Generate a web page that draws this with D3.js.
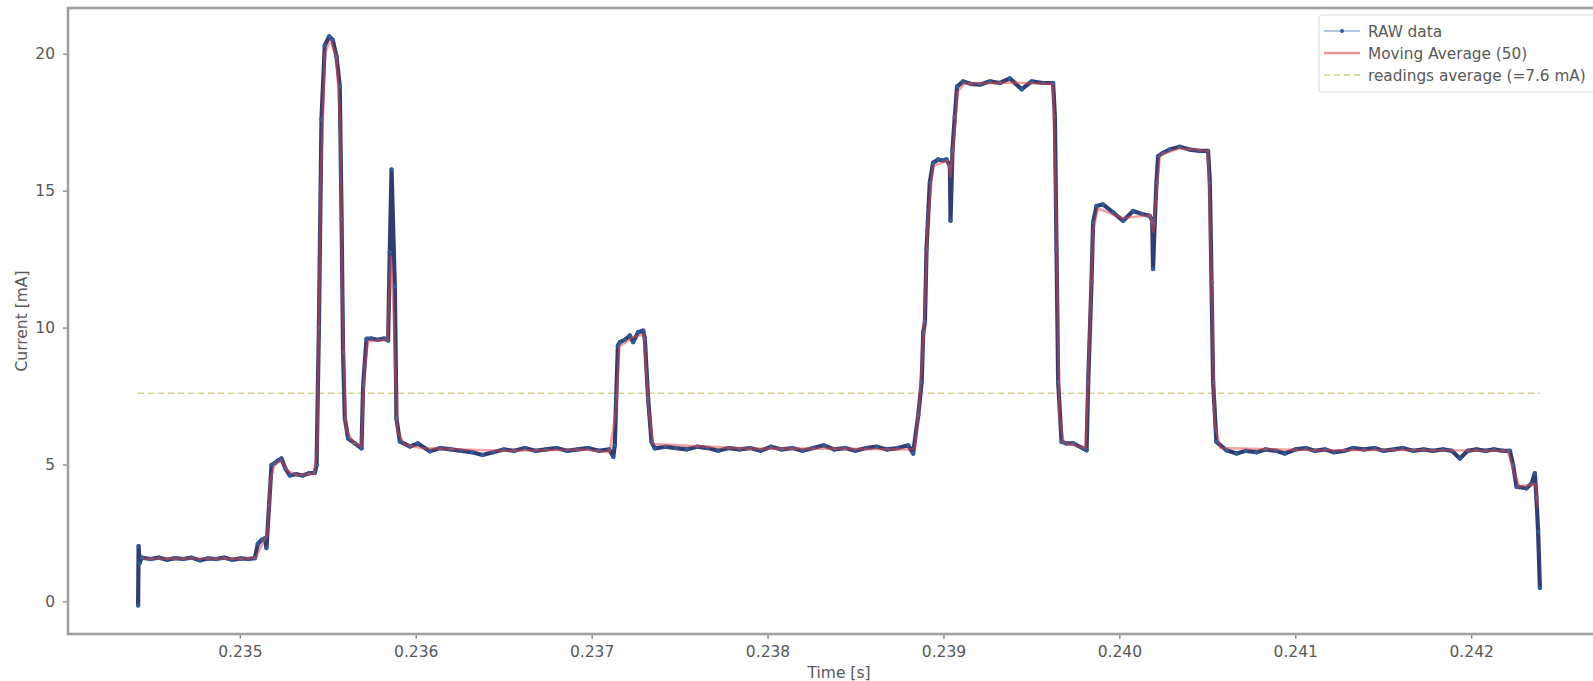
<!DOCTYPE html>
<html>
<head>
<meta charset="utf-8">
<script src="https://cdn.jsdelivr.net/npm/d3@7"></script>
<style>
  html, body { margin: 0; padding: 0; background: #fff; }
  svg { display: block; }
  text { font-family: "DejaVu Sans", sans-serif; }
</style>
</head>
<body>
<svg id="chart" width="1593" height="681"></svg>
<script>
// ---------------- data ----------------
const xTicks = [0.235, 0.236, 0.237, 0.238, 0.239, 0.240, 0.241, 0.242];
const xTickLabels = ["0.235", "0.236", "0.237", "0.238", "0.239", "0.240", "0.241", "0.242"];
const yTicks = [0, 5, 10, 15, 20];
const yTickLabels = ["0", "5", "10", "15", "20"];
const xLabel = "Time [s]";
const yLabel = "Current [mA]";
const legendLabels = ["RAW data", "Moving Average (50)", "readings average (=7.6 mA)"];
const readingsAverage = 7.6;

// RAW data: [time (s), current (mA)]
const rawData = [
  [0.2344216, -0.15], [0.2344245, 2.02], [0.2344300, 1.4], [0.2344421, 1.6],
  [0.2344932, 1.55], [0.2345396, 1.60], [0.2345860, 1.52], [0.2346324, 1.58], [0.2346788, 1.55],
  [0.2347253, 1.60], [0.2347717, 1.50], [0.2348181, 1.57], [0.2348645, 1.55], [0.2349109, 1.60],
  [0.2349573, 1.52], [0.2350038, 1.57], [0.2350502, 1.55], [0.2350855, 1.58],
  [0.2351022, 2.1], [0.2351245, 2.25], [0.2351421, 2.3], [0.2351514, 1.95], [0.2351662, 3.5],
  [0.2351802, 4.98], [0.2351987, 5.05], [0.2352173, 5.15], [0.2352368, 5.22], [0.2352591, 4.85],
  [0.2352841, 4.6], [0.2353194, 4.65], [0.2353565, 4.6], [0.2353937, 4.68], [0.2354262, 4.7],
  [0.2354364, 4.98], [0.2354494, 10.0], [0.2354642, 17.6], [0.2354828, 20.3], [0.2355079, 20.63],
  [0.2355283, 20.5], [0.2355496, 19.9], [0.2355682, 18.8], [0.2355784, 13.96], [0.2355868, 9.1],
  [0.2355970, 6.68], [0.2356156, 5.95], [0.2356536, 5.77], [0.2356917, 5.59], [0.2357010, 7.9],
  [0.2357205, 9.59], [0.2357465, 9.6], [0.2357836, 9.55], [0.2358207, 9.6], [0.2358430, 9.53],
  [0.2358523, 12.75], [0.2358625, 15.77], [0.2358811, 11.5], [0.2358904, 6.68], [0.2359099, 5.84],
  [0.2359665, 5.66], [0.2360120, 5.77], [0.2360797, 5.48],
  [0.23614, 5.6], [0.23620, 5.55], [0.23626, 5.5], [0.23632, 5.45], [0.23638, 5.35],
  [0.23644, 5.45], [0.23650, 5.55], [0.23656, 5.5], [0.23662, 5.6], [0.23668, 5.5],
  [0.23674, 5.55], [0.23680, 5.6], [0.23686, 5.5], [0.23692, 5.55], [0.23698, 5.6],
  [0.23704, 5.5], [0.23710, 5.55], [0.2371232, 5.28],
  [0.2371316, 5.7], [0.2371399, 7.5], [0.2371492, 9.34], [0.2371604, 9.47], [0.2371882, 9.55],
  [0.2372170, 9.71], [0.2372356, 9.47], [0.2372643, 9.83], [0.2372931, 9.89], [0.2373024, 9.59],
  [0.2373210, 7.4], [0.2373405, 5.83], [0.2373590, 5.59],
  [0.23742, 5.65], [0.23748, 5.6], [0.23754, 5.55], [0.23760, 5.65], [0.23766, 5.6],
  [0.23772, 5.5], [0.23778, 5.6], [0.23784, 5.55], [0.23790, 5.6], [0.23796, 5.5],
  [0.23802, 5.65], [0.23808, 5.55], [0.23814, 5.6], [0.23820, 5.5], [0.23826, 5.6],
  [0.23832, 5.7], [0.23838, 5.55], [0.23844, 5.6], [0.23850, 5.5], [0.23856, 5.6],
  [0.23862, 5.65], [0.23868, 5.55], [0.23874, 5.6], [0.23880, 5.7], [0.2388277, 5.4],
  [0.2388565, 6.8], [0.2388760, 8.0], [0.2388853, 9.83], [0.2388946, 10.2], [0.2389038, 12.86],
  [0.2389224, 15.29], [0.2389410, 16.02], [0.2389698, 16.14], [0.2389958, 16.1], [0.2390171, 16.14],
  [0.2390366, 15.9], [0.2390403, 13.9], [0.2390515, 16.5], [0.2390645, 17.7], [0.2390775, 18.8],
  [0.2391118, 18.99], [0.2391536, 18.9], [0.2392065, 18.87], [0.2392641, 18.99], [0.2393207, 18.93],
  [0.2393773, 19.1], [0.2394441, 18.7], [0.2395008, 18.99], [0.2395667, 18.93], [0.2396233, 18.93],
  [0.2396335, 17.7], [0.2396428, 12.86], [0.2396521, 8.01], [0.2396716, 5.83], [0.2396995, 5.77],
  [0.2397375, 5.77], [0.2397941, 5.59], [0.2398136, 5.52], [0.2398229, 8.0], [0.2398415, 11.65],
  [0.2398508, 13.84], [0.2398703, 14.44], [0.2399074, 14.5], [0.2399650, 14.2], [0.2400216, 13.9],
  [0.2400782, 14.26], [0.2401284, 14.15], [0.2401729, 14.08], [0.2401869, 13.9], [0.2401915, 12.14],
  [0.2402008, 13.8], [0.2402110, 15.3], [0.2402203, 16.26], [0.2402481, 16.38], [0.2402862, 16.5],
  [0.2403428, 16.6], [0.2404004, 16.5], [0.2404570, 16.45], [0.2405044, 16.45], [0.2405146, 15.3],
  [0.2405239, 11.65], [0.2405331, 8.0], [0.2405517, 5.83], [0.2406093, 5.52], [0.2406659, 5.4],
  [0.24072, 5.5], [0.24078, 5.45], [0.24083, 5.55], [0.24089, 5.5], [0.24094, 5.4],
  [0.24100, 5.55], [0.24106, 5.6], [0.24111, 5.5], [0.24117, 5.55], [0.24122, 5.45],
  [0.24128, 5.5], [0.24133, 5.6], [0.24139, 5.55], [0.24145, 5.6], [0.24150, 5.5],
  [0.24156, 5.55], [0.24161, 5.6], [0.24167, 5.5], [0.24173, 5.55], [0.24178, 5.5],
  [0.24184, 5.55], [0.24189, 5.5], [0.2419359, 5.22], [0.24198, 5.5], [0.24203, 5.55],
  [0.24208, 5.5], [0.24213, 5.55], [0.24218, 5.5], [0.24222, 5.5],
  [0.2422385, 4.98], [0.2422580, 4.19], [0.2423147, 4.13], [0.2423434, 4.31], [0.2423620, 4.68],
  [0.2423713, 3.77], [0.2423806, 2.55], [0.2423908, 0.49]
];

// Moving Average (50): [time (s), current (mA)]
const movingAverage = [
  [0.2344467, 1.56], [0.2347253, 1.57], [0.2350038, 1.56], [0.2350920, 1.6], [0.2351337, 2.2],
  [0.2351569, 2.4], [0.2351755, 4.5], [0.2351987, 5.0], [0.2352368, 5.15], [0.2352730, 4.75],
  [0.2353287, 4.62], [0.2354215, 4.66], [0.2354401, 5.5], [0.2354587, 15.0], [0.2354828, 20.0],
  [0.2355144, 20.5], [0.2355496, 19.9], [0.2355701, 17.5], [0.2355840, 10.5], [0.2356026, 6.3],
  [0.2356443, 5.8], [0.2356908, 5.65], [0.2357093, 8.5], [0.2357279, 9.5], [0.2358393, 9.55],
  [0.2358579, 12.6], [0.2358718, 11.0], [0.2358950, 6.2], [0.2359321, 5.75], [0.2360250, 5.6],
  [0.2364892, 5.5], [0.2369533, 5.55], [0.2371019, 5.45], [0.2371390, 7.0], [0.2371576, 9.3],
  [0.2372319, 9.65], [0.2372968, 9.75], [0.2373247, 7.0], [0.2373479, 5.75], [0.2378817, 5.58],
  [0.2383459, 5.58], [0.2388101, 5.55], [0.2388379, 5.6], [0.2388658, 7.5], [0.2388890, 9.9],
  [0.2389122, 14.0], [0.2389401, 15.9], [0.2390236, 16.1], [0.2390403, 15.5], [0.2390561, 16.6],
  [0.2390793, 18.6], [0.2391164, 18.9], [0.2393671, 18.95], [0.2396233, 18.9], [0.2396410, 14.0],
  [0.2396595, 6.8], [0.2396827, 5.8], [0.2398081, 5.6], [0.2398266, 9.0], [0.2398499, 13.5],
  [0.2398777, 14.35], [0.2400170, 14.0], [0.2401748, 14.1], [0.2401933, 13.5], [0.2402119, 15.0],
  [0.2402305, 16.3], [0.2403419, 16.55], [0.2405044, 16.45], [0.2405229, 12.0], [0.2405415, 6.5],
  [0.2405740, 5.6], [0.2411310, 5.52], [0.2415952, 5.53], [0.2422079, 5.5], [0.2422450, 4.7],
  [0.2422729, 4.2], [0.2423379, 4.25], [0.2423657, 4.3], [0.2423806, 3.4]
];

// ---------------- drawing ----------------
const svg = d3.select("#chart");
const plot = { left: 68, right: 1610, top: 8, bottom: 634 };
const fontSize = 15.5;
const legendFontSize = 15.3;

const tExtent = d3.extent(rawData, d => d[0]);
const tPad = (tExtent[1] - tExtent[0]) * 0.05;
const x = d3.scaleLinear()
  .domain([tExtent[0] - tPad, tExtent[1] + tPad])
  .range([plot.left, plot.right]);

const vMin = d3.min(rawData, d => d[1]), vMax = d3.max(rawData, d => d[1]);
const vPad = (vMax - vMin) * 0.05;
const y = d3.scaleLinear()
  .domain([vMin - vPad, vMax + vPad])
  .range([plot.bottom, plot.top]);

const textColor = "#585858";

// axes
const xAxis = d3.axisBottom(x).tickValues(xTicks)
  .tickFormat((d, i) => xTickLabels[i]).tickSize(5).tickPadding(7);
const gx = svg.append("g").attr("transform", `translate(0,${plot.bottom})`).call(xAxis);
const yAxis = d3.axisLeft(y).tickValues(yTicks)
  .tickFormat((d, i) => yTickLabels[i]).tickSize(5).tickPadding(8);
const gy = svg.append("g").attr("transform", `translate(${plot.left},0)`).call(yAxis);
[gx, gy].forEach(g => {
  g.select(".domain").remove();
  g.selectAll(".tick line").attr("stroke", "#8a8a8a").attr("stroke-width", 1.4);
  g.selectAll(".tick text").attr("fill", textColor).attr("font-size", fontSize)
    .attr("font-family", "DejaVu Sans");
});

// spines
svg.append("rect")
  .attr("x", plot.left).attr("y", plot.top)
  .attr("width", plot.right - plot.left).attr("height", plot.bottom - plot.top)
  .attr("fill", "none").attr("stroke", "#a0a0a0").attr("stroke-width", 2.6);

// axis labels
svg.append("text")
  .attr("x", (plot.left + plot.right) / 2).attr("y", 678)
  .attr("text-anchor", "middle").attr("fill", textColor).attr("font-size", fontSize)
  .text(xLabel);
svg.append("text")
  .attr("transform", `translate(27,${(plot.top + plot.bottom) / 2}) rotate(-90)`)
  .attr("text-anchor", "middle").attr("fill", textColor).attr("font-size", fontSize)
  .text(yLabel);

// readings average line
svg.append("line")
  .attr("x1", x(tExtent[0])).attr("x2", x(tExtent[1]))
  .attr("y1", y(readingsAverage)).attr("y2", y(readingsAverage))
  .attr("stroke", "#c9c56a").attr("stroke-opacity", 0.8).attr("stroke-width", 1.6)
  .attr("stroke-dasharray", "6,4");

const line = d3.line().x(d => x(d[0])).y(d => y(d[1]));

// raw data: line + markers
svg.append("path").datum(rawData)
  .attr("d", line).attr("fill", "none")
  .attr("stroke", "#313c70").attr("stroke-width", 4.2)
  .attr("stroke-linejoin", "round");
svg.append("g").selectAll("circle").data(rawData).join("circle")
  .attr("cx", d => x(d[0])).attr("cy", d => y(d[1])).attr("r", 2.2)
  .attr("fill", "#2d5c99");

// moving average
svg.append("path").datum(movingAverage)
  .attr("d", line).attr("fill", "none")
  .attr("stroke", "#e0474c").attr("stroke-opacity", 0.5).attr("stroke-width", 2.6)
  .attr("stroke-linejoin", "round");

// legend
const lg = svg.append("g");
lg.append("rect").attr("x", 1319).attr("y", 15).attr("width", 300).attr("height", 77)
  .attr("rx", 3).attr("fill", "#fff").attr("fill-opacity", 0.9)
  .attr("stroke", "#dcdcdc").attr("stroke-width", 1.2);
const rowsY = [31, 53, 75];
// RAW
lg.append("line").attr("x1", 1324).attr("x2", 1360).attr("y1", rowsY[0]).attr("y2", rowsY[0])
  .attr("stroke", "#8fb4d8").attr("stroke-width", 1.6);
lg.append("circle").attr("cx", 1342).attr("cy", rowsY[0]).attr("r", 2).attr("fill", "#2d5c99");
// MA
lg.append("line").attr("x1", 1324).attr("x2", 1360).attr("y1", rowsY[1]).attr("y2", rowsY[1])
  .attr("stroke", "#e0474c").attr("stroke-opacity", 0.6).attr("stroke-width", 2.6);
// average
lg.append("line").attr("x1", 1324).attr("x2", 1360).attr("y1", rowsY[2]).attr("y2", rowsY[2])
  .attr("stroke", "#c9c56a").attr("stroke-opacity", 0.8).attr("stroke-width", 1.6)
  .attr("stroke-dasharray", "6,4");
legendLabels.forEach((t, i) => {
  lg.append("text").attr("x", 1368).attr("y", rowsY[i] + 5.5)
    .attr("fill", textColor).attr("font-size", legendFontSize).text(t);
});
</script>
</body>
</html>
